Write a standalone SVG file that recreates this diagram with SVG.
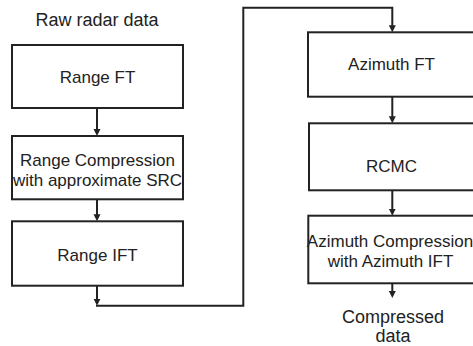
<svg xmlns="http://www.w3.org/2000/svg" width="473" height="346" viewBox="0 0 473 346">
  <style>
    .box { fill: #fff; stroke: #222; stroke-width: 2; }
    .lbl { font-family: "Liberation Sans", Arial, sans-serif; font-size: 17px; fill: #222; text-anchor: middle; }
    .io { font-family: "Liberation Sans", Arial, sans-serif; font-size: 18px; fill: #222; text-anchor: middle; }
    .wire { fill: none; stroke: #222; stroke-width: 2; }
  </style>
  <defs>
    <marker id="arrow" markerUnits="userSpaceOnUse" markerWidth="8" markerHeight="8" viewBox="0 0 8 8" refX="4" refY="4" orient="auto">
      <path d="M0,0.5 L7,4 L0,7.5 z" fill="#222"/>
    </marker>
  </defs>
  <rect width="473" height="346" fill="#fff"/>

  <text class="io" x="97" y="26">Raw radar data</text>

  <g id="range-ft">
    <rect class="box" x="12" y="45" width="171" height="63"/>
    <text class="lbl" x="97.5" y="82.7">Range FT</text>
  </g>
  <g id="range-compression">
    <rect class="box" x="12" y="136" width="171" height="63.3"/>
    <text class="lbl" x="97.5" y="165.7" font-size="16.5">Range Compression</text>
    <text class="lbl" x="97.5" y="185.7" font-size="16.5">with approximate SRC</text>
  </g>
  <g id="range-ift">
    <rect class="box" x="12" y="221.3" width="171" height="64.4"/>
    <text class="lbl" x="97.5" y="260.7">Range IFT</text>
  </g>

  <g id="azimuth-ft">
    <rect class="box" x="308" y="32.3" width="172" height="64.4"/>
    <text class="lbl" x="391.5" y="70">Azimuth FT</text>
  </g>
  <g id="rcmc">
    <rect class="box" x="309" y="123.3" width="172" height="67"/>
    <text class="lbl" x="391.5" y="172.3">RCMC</text>
  </g>
  <g id="azimuth-compression">
    <rect class="box" x="308.3" y="215.7" width="172" height="67.6"/>
    <text class="lbl" x="390" y="247.3" font-size="16.2">Azimuth Compression</text>
    <text class="lbl" x="390.5" y="267.3" font-size="16.5">with Azimuth IFT</text>
  </g>

  <text class="io" x="393" y="322.7">Compressed</text>
  <text class="io" x="393" y="342">data</text>

  <g id="connectors">
    <path class="wire" d="M97,108.5 V133" marker-end="url(#arrow)"/>
    <path class="wire" d="M97,199.5 V218.3" marker-end="url(#arrow)"/>
    <path class="wire" d="M97,286 V302.7" marker-end="url(#arrow)"/>
    <path class="wire" d="M96,305.7 H243.3 V7.7 H392.3 V29.3" marker-end="url(#arrow)"/>
    <path class="wire" d="M392.3,96.7 V120.3" marker-end="url(#arrow)"/>
    <path class="wire" d="M392.3,190.5 V212.7" marker-end="url(#arrow)"/>
    <path class="wire" d="M392.3,283.5 V295" marker-end="url(#arrow)"/>
  </g>
</svg>
